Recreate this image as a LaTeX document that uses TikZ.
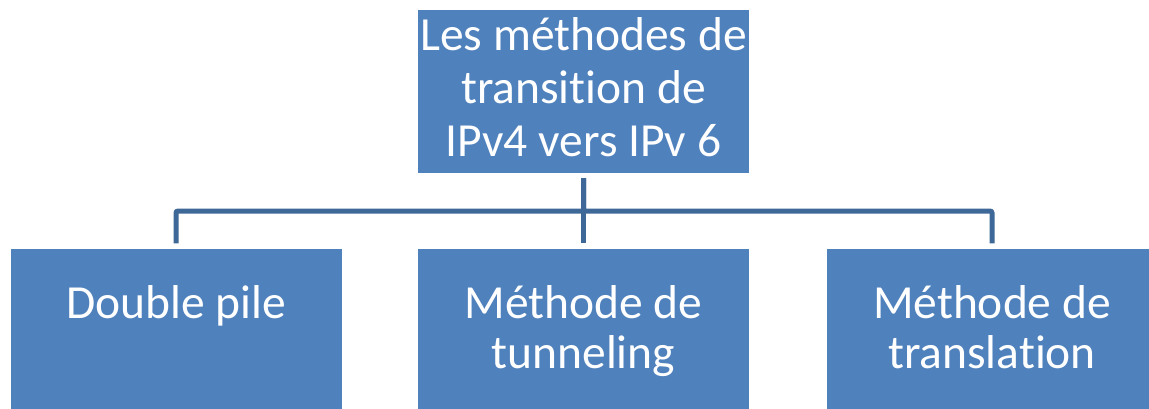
\documentclass[tikz,border=0pt]{standalone}
\usepackage{fontspec}
\setmainfont{Carlito}[Ligatures=NoCommon]
\definecolor{boxblue}{HTML}{4F81BD}
\definecolor{linkblue}{HTML}{3D6897}
\tikzset{
  box/.style={fill=boxblue, draw=none, minimum width=331pt, minimum height=163pt, inner sep=0pt},
  toptext/.style={text=white, align=center, font=\fontsize{47.5}{53}\selectfont, inner sep=0pt},
  lowtext/.style={text=white, align=center, font=\fontsize{47.5}{50}\selectfont, inner sep=0pt},
  link/.style={draw=linkblue, line width=5pt, rounded corners=2pt, shorten >=5.5pt, shorten <=5pt}
}
\begin{document}
\begin{tikzpicture}[x=1pt, y=-1pt]
  \useasboundingbox (0,0) rectangle (1149,409);
  \clip (0,0) rectangle (1149,409);
  % boxes
  \node[box] (top) at (583.5,91.5) {};
  \node[box] (left) at (176,330.5) {};
  \node[box] (mid) at (583.5,330.5) {};
  \node[box] (right) at (992,330.5) {};
  % labels (anchored at the baseline of their last line)
  \node[toptext, anchor=base] (toplabel) at (583.5,157) {Les méthodes de\\transition de\\IPv4 vers IPv 6};
  \node[lowtext, anchor=base] (leftlabel) at (176,318) {Double pile};
  \node[lowtext, anchor=base] (midlabel) at (583.5,368) {Méthode de\\tunneling};
  \node[lowtext, anchor=base] (rightlabel) at (992,368) {Méthode de\\translation};
  % connectors
  \coordinate (bus) at (583.5,211);
  \draw[link] (top.south) -- (mid.north);
  \draw[link] (top.south) -- (bus) -| (left.north);
  \draw[link] (top.south) -- (bus) -| (right.north);
\end{tikzpicture}
\end{document}
